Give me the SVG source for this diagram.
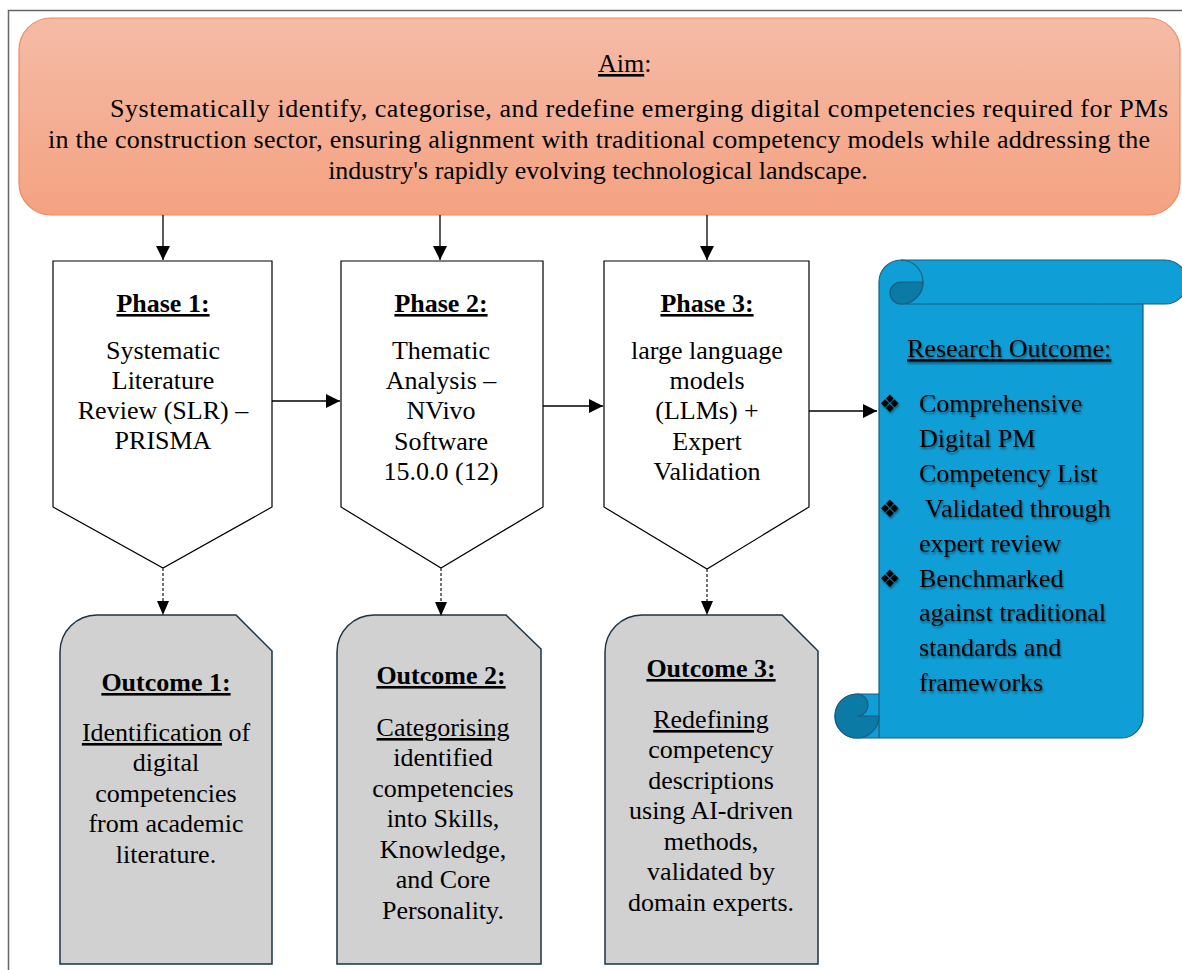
<svg xmlns="http://www.w3.org/2000/svg" width="1182" height="970" viewBox="0 0 1182 970">
  <defs>
    <linearGradient id="aimFill" x1="0" y1="0" x2="0" y2="1">
      <stop offset="0" stop-color="#F5BBA7"/>
      <stop offset="1" stop-color="#F4A281"/>
    </linearGradient>
    <marker id="head" viewBox="0 0 10 10" refX="10" refY="5" markerWidth="14" markerHeight="14" markerUnits="userSpaceOnUse" orient="auto">
      <path d="M0,0 L10,5 L0,10 Z" fill="#000"/>
    </marker>
    <filter id="soft" x="-5%" y="-20%" width="110%" height="140%">
      <feGaussianBlur in="SourceAlpha" stdDeviation="1.2"/>
      <feOffset dx="1" dy="1.5" result="b"/>
      <feComponentTransfer><feFuncA type="linear" slope="0.45"/></feComponentTransfer>
      <feMerge><feMergeNode/><feMergeNode in="SourceGraphic"/></feMerge>
    </filter>
  </defs>
  <style>
    text { font-family: "Liberation Serif", "Times New Roman", serif; font-size: 26px; fill: #000; }
    .c { text-anchor: middle; }
    .b { font-weight: bold; }
    .u { text-decoration: underline; }
    .phase { fill: #fff; stroke: #000; stroke-width: 1.2; }
    .out { fill: #D1D1D1; stroke: #1B3345; stroke-width: 1.5; }
    .link { fill: none; stroke: #000; stroke-width: 1.3; }
    .dash { fill: none; stroke: #444; stroke-width: 1.5; stroke-dasharray: 3 2; }
    .scroll { fill: #109ED6; stroke: #1A5D7E; stroke-width: 1.2; }
    .curl { fill: #0B7BA6; stroke: #1A5D7E; stroke-width: 1.2; }
    .bul { font-family: "DejaVu Sans", sans-serif; font-size: 24px; }
  </style>

  <rect width="1182" height="970" fill="#fff"/>
  <!-- page frame -->
  <path d="M8.5,970 V10.5 H1182" fill="none" stroke="#666" stroke-width="1.5"/>

  <!-- aim -->
  <g id="aim">
    <rect x="19" y="18" width="1161" height="197" rx="32" fill="url(#aimFill)" stroke="#EE8A5E" stroke-width="1.2"/>
    <text x="598" y="72"><tspan class="u">Aim</tspan>:</text>
    <text x="110" y="117" textLength="1058" lengthAdjust="spacing">Systematically identify, categorise, and redefine emerging digital competencies required for PMs</text>
    <text x="48" y="148" textLength="1102" lengthAdjust="spacing">in the construction sector, ensuring alignment with traditional competency models while addressing the</text>
    <text x="598" y="179" class="c">industry's rapidly evolving technological landscape.</text>
  </g>

  <!-- phases -->
  <g id="phase1">
    <path class="phase" d="M53,261 H272 V507 L163,568 L53,507 Z"/>
    <text x="163" y="312" class="c b u">Phase 1:</text>
    <text x="163" y="359" class="c">Systematic</text>
    <text x="163" y="389" class="c">Literature</text>
    <text x="163" y="419" class="c">Review (SLR) –</text>
    <text x="163" y="449" class="c">PRISMA</text>
  </g>
  <g id="phase2">
    <path class="phase" d="M341,261 H543 V507 L441,568 L341,507 Z"/>
    <text x="441" y="312" class="c b u">Phase 2:</text>
    <text x="441" y="359" class="c">Thematic</text>
    <text x="441" y="389" class="c">Analysis –</text>
    <text x="441" y="419" class="c">NVivo</text>
    <text x="441" y="450" class="c">Software</text>
    <text x="441" y="480" class="c">15.0.0 (12)</text>
  </g>
  <g id="phase3">
    <path class="phase" d="M604,261 H809 V507 L707,569 L604,507 Z"/>
    <text x="707" y="312" class="c b u">Phase 3:</text>
    <text x="707" y="359" class="c">large language</text>
    <text x="707" y="389" class="c">models</text>
    <text x="707" y="419" class="c">(LLMs) +</text>
    <text x="707" y="450" class="c">Expert</text>
    <text x="707" y="480" class="c">Validation</text>
  </g>

  <!-- outcomes -->
  <g id="outcome1">
    <path class="out" d="M60,964 V652 A37,37 0 0 1 97,615 H236 L272,651 V964 Z"/>
    <text x="166" y="691" class="c b u">Outcome 1:</text>
    <text x="166" y="741" class="c"><tspan class="u">Identification</tspan> of</text>
    <text x="166" y="771" class="c">digital</text>
    <text x="166" y="802" class="c">competencies</text>
    <text x="166" y="832" class="c">from academic</text>
    <text x="166" y="863" class="c">literature.</text>
  </g>
  <g id="outcome2">
    <path class="out" d="M337,964 V652 A37,37 0 0 1 374,615 H506 L541,649 V964 Z"/>
    <text x="441" y="684" class="c b u">Outcome 2:</text>
    <text x="443" y="736" class="c u">Categorising</text>
    <text x="443" y="766" class="c">identified</text>
    <text x="443" y="797" class="c">competencies</text>
    <text x="443" y="827" class="c">into Skills,</text>
    <text x="443" y="858" class="c">Knowledge,</text>
    <text x="443" y="888" class="c">and Core</text>
    <text x="443" y="919" class="c">Personality.</text>
  </g>
  <g id="outcome3">
    <path class="out" d="M605,964 V652 A37,37 0 0 1 642,615 H782 L818,651 V964 Z"/>
    <text x="711" y="677" class="c b u">Outcome 3:</text>
    <text x="711" y="728" class="c u">Redefining</text>
    <text x="711" y="758" class="c">competency</text>
    <text x="711" y="789" class="c">descriptions</text>
    <text x="711" y="819" class="c">using AI-driven</text>
    <text x="711" y="850" class="c">methods,</text>
    <text x="711" y="880" class="c">validated by</text>
    <text x="711" y="911" class="c">domain experts.</text>
  </g>

  <!-- research outcome scroll -->
  <g id="research-outcome">
    <path class="scroll" d="M879,282 A22,22 0 0 1 901,260 H1165 A22,22 0 0 1 1165,304 H1143 V716 A22,22 0 0 1 1121,738 H857 A22,22 0 0 1 857,694 H879 Z"/>
    <path class="scroll" d="M901,260 A22,22 0 0 1 901,304 H1143 M879,694 V738" fill="none"/>
    <path class="curl" d="M901,282 H923 A22,22 0 0 1 901,304 A11,11 0 0 1 901,282 Z"/>
    <path class="curl" d="M857,694 A22,22 0 1 0 879,716 H857 A11,11 0 0 0 857,694 Z"/>
    <g filter="url(#soft)">
      <text x="907" y="357" class="u">Research Outcome:</text>
      <text x="879" y="412" class="bul">❖</text>
      <text x="919" y="412">Comprehensive</text>
      <text x="919" y="447">Digital PM</text>
      <text x="919" y="482">Competency List</text>
      <text x="879" y="517" class="bul">❖</text>
      <text x="925" y="517">Validated through</text>
      <text x="919" y="552">expert review</text>
      <text x="879" y="587" class="bul">❖</text>
      <text x="919" y="587">Benchmarked</text>
      <text x="919" y="621">against traditional</text>
      <text x="919" y="656">standards and</text>
      <text x="919" y="691">frameworks</text>
    </g>
  </g>

  <!-- connectors -->
  <g id="connectors">
    <path class="link" d="M163,215 V260" marker-end="url(#head)"/>
    <path class="link" d="M440,215 V260" marker-end="url(#head)"/>
    <path class="link" d="M707,215 V260" marker-end="url(#head)"/>
    <path class="link" d="M272,401 H340" marker-end="url(#head)"/>
    <path class="link" d="M543,406 H603" marker-end="url(#head)"/>
    <path class="link" d="M809,411 H877" marker-end="url(#head)"/>
    <path class="dash" d="M163,568 V603"/>
    <path d="M157,601 L169,601 L163,615 Z" fill="#000"/>
    <path class="dash" d="M441,568 V604"/>
    <path d="M435,602 L447,602 L441,616 Z" fill="#000"/>
    <path class="dash" d="M707,569 V603"/>
    <path d="M701,601 L713,601 L707,615 Z" fill="#000"/>
  </g>
</svg>
